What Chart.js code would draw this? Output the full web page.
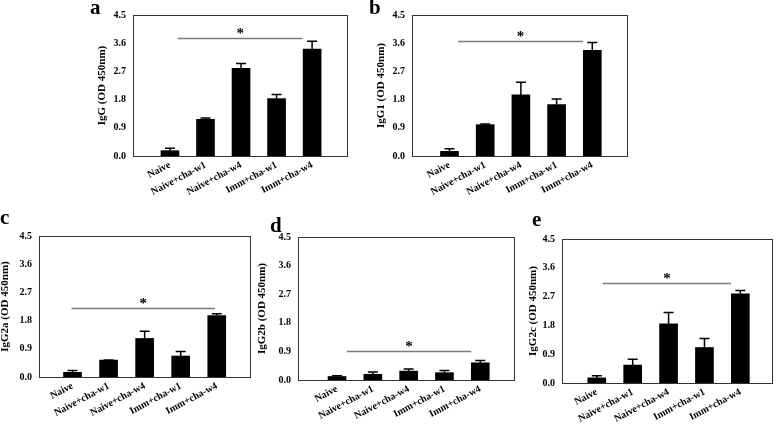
<!DOCTYPE html>
<html>
<head>
<meta charset="utf-8">
<script src="https://cdn.jsdelivr.net/npm/chart.js@4.4.1/dist/chart.umd.min.js"></script>
<style>
  body { margin: 0; background: #fff; width: 778px; height: 428px; overflow: hidden; position: relative; }
  .panel { position: absolute; }
  .tag { position: absolute; font: bold 21px "Liberation Serif", "Times New Roman", serif; line-height: 21px; color: #000; }
</style>
</head>
<body>
<script>
// groups on the x axis, shared by all five panels
var groups = ["Naive", "Naive+cha-w1", "Naive+cha-w4", "Imm+cha-w1", "Imm+cha-w4"];
var yTicks = [0, 0.9, 1.8, 2.7, 3.6, 4.5];

// mean OD and upper error (SEM) per group
var iggMean   = [0.17, 1.17, 2.80, 1.83, 3.41];
var iggErr    = [0.08, 0.04, 0.15, 0.13, 0.25];
var igg1Mean  = [0.15, 1.00, 1.95, 1.64, 3.37];
var igg1Err   = [0.08, 0.02, 0.40, 0.18, 0.25];
var igg2aMean = [0.15, 0.54, 1.23, 0.67, 1.96];
var igg2aErr  = [0.06, 0.00, 0.23, 0.14, 0.06];
var igg2bMean = [0.11, 0.18, 0.28, 0.23, 0.54];
var igg2bErr  = [0.02, 0.07, 0.07, 0.07, 0.07];
var igg2cMean = [0.16, 0.56, 1.85, 1.11, 2.79];
var igg2cErr  = [0.07, 0.18, 0.35, 0.28, 0.10];

// significance bar: [from group, to group, height]
var iggSig   = [0.22, 3.73, 3.77];
var igg1Sig  = [0.24, 3.74, 3.68];
var igg2aSig = [-0.03, 3.95, 2.20];
var igg2bSig = [0.27, 3.75, 0.91];
var igg2cSig = [0.17, 3.74, 3.11];

var serif = '"Liberation Serif", "Times New Roman", serif';

var panels = [
  { tag: 'a', title: 'IgG (OD 450nm)',   mean: iggMean,   err: iggErr,   sig: iggSig,   box: [133, 10, 348, 156],  yw: 37, xr: [-1.04, 5.01], tagPos: [90, 15] },
  { tag: 'b', title: 'IgG1 (OD 450nm)',  mean: igg1Mean,  err: igg1Err,  sig: igg1Sig,  box: [412, 10, 628, 156],  yw: 37, xr: [-1.05, 5.00], tagPos: [369, 15] },
  { tag: 'c', title: 'IgG2a (OD 450nm)', mean: igg2aMean, err: igg2aErr, sig: igg2aSig, box: [39, 231, 251, 377],  yw: 40, xr: [-0.93, 4.95], tagPos: [0, 225] },
  { tag: 'd', title: 'IgG2b (OD 450nm)', mean: igg2bMean, err: igg2bErr, sig: igg2bSig, box: [298, 232, 515, 380], yw: 42, xr: [-1.09, 4.97], tagPos: [270, 233] },
  { tag: 'e', title: 'IgG2c (OD 450nm)', mean: igg2cMean, err: igg2cErr, sig: igg2cSig, box: [562, 234, 773, 383], yw: 35, xr: [-0.97, 4.91], tagPos: [532, 227] }
];

// error bars, significance line with asterisk, and the frame around the plot
var marksPlugin = {
  id: 'marks',
  afterDatasetsDraw: function (chart, args, opts) {
    var ctx = chart.ctx, area = chart.chartArea;
    var xs = chart.scales.x, ys = chart.scales.y;
    var meta = chart.getDatasetMeta(0);
    var data = chart.data.datasets[0].data;
    ctx.save();
    ctx.strokeStyle = '#000';
    ctx.lineWidth = 1.5;
    meta.data.forEach(function (bar, i) {
      var top = ys.getPixelForValue(data[i].y + opts.err[i]);
      ctx.beginPath();
      ctx.moveTo(bar.x, bar.y);
      ctx.lineTo(bar.x, top);
      ctx.moveTo(bar.x - 5, top);
      ctx.lineTo(bar.x + 5, top);
      ctx.stroke();
    });

    var x1 = xs.getPixelForValue(opts.sig[0]);
    var x2 = xs.getPixelForValue(opts.sig[1]);
    var sy = Math.round(ys.getPixelForValue(opts.sig[2])) + 0.5;
    ctx.strokeStyle = '#7a7a7a';
    ctx.lineWidth = 1.5;
    ctx.beginPath();
    ctx.moveTo(x1, sy);
    ctx.lineTo(x2, sy);
    ctx.stroke();
    ctx.fillStyle = '#000';
    ctx.font = 'bold 15px ' + serif;
    ctx.textAlign = 'center';
    ctx.textBaseline = 'alphabetic';
    ctx.fillText('*', (x1 + x2) / 2, sy - 1);

    ctx.strokeStyle = '#333';
    ctx.lineWidth = 1;
    ctx.strokeRect(area.left + 0.5, area.top + 0.5, area.right - area.left - 1, area.bottom - area.top);
    ctx.restore();
  }
};

panels.forEach(function (p) {
  var b = p.box, padTop = 8, padRight = 4, xh = 72;
  var w = b[2] - b[0] + p.yw + padRight;
  var h = b[3] - b[1] + padTop + xh;

  var div = document.createElement('div');
  div.className = 'panel';
  div.style.left = (b[0] - p.yw) + 'px';
  div.style.top = (b[1] - padTop) + 'px';
  div.style.width = w + 'px';
  div.style.height = h + 'px';
  var cv = document.createElement('canvas');
  cv.width = w;
  cv.height = h;
  cv.style.width = w + 'px';
  cv.style.height = h + 'px';
  div.appendChild(cv);
  document.body.appendChild(div);

  new Chart(cv, {
    type: 'bar',
    data: {
      datasets: [{
        data: p.mean.map(function (v, i) { return { x: i, y: v }; }),
        backgroundColor: '#000',
        borderWidth: 0,
        barThickness: 18
      }]
    },
    options: {
      responsive: false,
      animation: false,
      layout: { padding: { left: 0, top: padTop, right: padRight, bottom: 0 } },
      plugins: {
        legend: { display: false },
        tooltip: { enabled: false },
        marks: { err: p.err, sig: p.sig }
      },
      scales: {
        x: {
          type: 'linear',
          bounds: 'data',
          offset: false,
          min: p.xr[0],
          max: p.xr[1],
          afterBuildTicks: function (s) { s.ticks = groups.map(function (g, i) { return { value: i }; }); },
          afterFit: function (s) { s.height = xh; },
          grid: { display: false, drawTicks: false },
          border: { display: false },
          ticks: {
            autoSkip: false,
            minRotation: 28,
            maxRotation: 28,
            padding: 3,
            color: '#000',
            font: { family: serif, size: 10, weight: 'bold' },
            callback: function (v) { return groups[v]; }
          }
        },
        y: {
          min: 0,
          max: 4.5,
          bounds: 'data',
          afterBuildTicks: function (s) { s.ticks = yTicks.map(function (v) { return { value: v }; }); },
          afterFit: function (s) { s.width = p.yw; },
          grid: { display: false, drawTicks: false },
          border: { display: false },
          ticks: {
            padding: 7,
            color: '#000',
            font: { family: serif, size: 10, weight: 'bold' },
            callback: function (v) { return v.toFixed(1); }
          },
          title: {
            display: true,
            text: p.title,
            color: '#000',
            padding: 0,
            font: { family: serif, size: 11, weight: 'bold' }
          }
        }
      }
    },
    plugins: [marksPlugin]
  });

  var t = document.createElement('div');
  t.className = 'tag';
  t.textContent = p.tag;
  t.style.left = p.tagPos[0] + 'px';
  t.style.top = (p.tagPos[1] - 17.6) + 'px';
  document.body.appendChild(t);
});
</script>
</body>
</html>
